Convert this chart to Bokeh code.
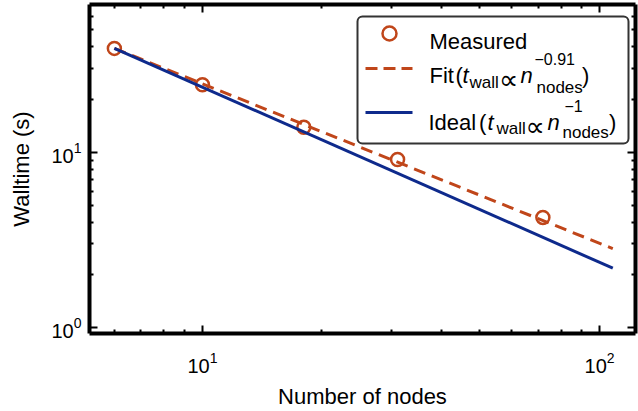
from bokeh.plotting import figure
from bokeh.models import (LogAxis, FixedTicker, LogTickFormatter, CustomJSTickFormatter,
                          Label, BoxAnnotation, Arrow, Range1d)
from bokeh.embed import file_html
from bokeh.resources import INLINE

# ---- data ----
nodes = [6, 10, 18, 31, 72]
walltime = [39.2, 24.3, 13.9, 9.1, 4.25]
fit_nodes = [6, 108]
fit_walltime = [39.2, 2.82]
ideal_nodes = [6, 108]
ideal_walltime = [39.2, 2.18]

x_major = [1, 10, 100, 1000]
y_major = [0.1, 1, 10, 100]
x_minor = [m * d for d in (1, 10, 100) for m in range(2, 10)]
y_minor = [m * d for d in (0.1, 1, 10) for m in range(2, 10)]

ORANGE = "#C0461A"
BLUE = "#0E2A8C"
FONT = "Liberation Sans"

p = figure(width=638, height=411, x_axis_type="log", y_axis_type="log",
           x_range=Range1d(5.194, 123.2), y_range=Range1d(0.924, 69.8),
           output_backend="svg", toolbar_location=None,
           min_border_left=89, min_border_right=3, min_border_top=4, min_border_bottom=78)
p.background_fill_color = "white"
p.border_fill_color = "white"
p.grid.visible = False
p.outline_line_color = None

xt = FixedTicker(ticks=x_major, minor_ticks=x_minor)
yt = FixedTicker(ticks=y_major, minor_ticks=y_minor)


def style_axis(ax):
    ax.axis_line_color = "black"
    ax.axis_line_width = 4
    ax.major_tick_in = 8
    ax.major_tick_out = 0
    ax.minor_tick_in = 4
    ax.minor_tick_out = 0
    ax.major_tick_line_width = 2
    ax.minor_tick_line_width = 2
    ax.major_tick_line_color = "black"
    ax.minor_tick_line_color = "black"
    ax.major_label_text_font = FONT
    ax.major_label_text_font_size = "20px"
    ax.major_label_text_color = "black"
    ax.axis_label_text_font = FONT
    ax.axis_label_text_font_size = "22px"
    ax.axis_label_text_font_style = "normal"
    ax.axis_label_text_color = "black"


xa = p.xaxis[0]
ya = p.yaxis[0]
xa.ticker = xt
ya.ticker = yt
xa.formatter = LogTickFormatter()
ya.formatter = LogTickFormatter()
style_axis(xa)
style_axis(ya)
xa.axis_label = "Number of nodes"
ya.axis_label = "Walltime (s)"
xa.major_label_standoff = 18
xa.axis_label_standoff = 8
ya.major_label_standoff = 8
ya.axis_label_standoff = 14

top = LogAxis(ticker=xt, formatter=CustomJSTickFormatter(code="return ''"))
right = LogAxis(ticker=yt, formatter=CustomJSTickFormatter(code="return ''"))
for ax in (top, right):
    style_axis(ax)
    ax.major_label_text_font_size = "0px"
    ax.major_label_standoff = 0
p.add_layout(top, "above")
p.add_layout(right, "right")

# ---- data marks ----
p.scatter(nodes, walltime, marker="circle", size=13, fill_color=None,
          line_color=ORANGE, line_width=2.5)
p.line(fit_nodes, fit_walltime, line_color=ORANGE, line_width=3, line_dash="12 7")
p.line(ideal_nodes, ideal_walltime, line_color=BLUE, line_width=3)

# ---- legend (screen units relative to the plot frame, y measured upward) ----
p.add_layout(BoxAnnotation(left=268, right=539, top=317, bottom=190,
                           left_units="screen", right_units="screen",
                           top_units="screen", bottom_units="screen",
                           fill_color="white", fill_alpha=1.0,
                           line_color="#333333", line_alpha=1.0, line_width=2,
                           border_radius=5))
p.add_layout(BoxAnnotation(left=293, right=307, top=307, bottom=293,
                           left_units="screen", right_units="screen",
                           top_units="screen", bottom_units="screen",
                           fill_color=None, fill_alpha=0,
                           line_color=ORANGE, line_alpha=1.0, line_width=2.5,
                           border_radius=7))
p.add_layout(Arrow(x_start=276, y_start=265, x_end=323, y_end=265,
                   start_units="screen", end_units="screen", start=None, end=None,
                   line_color=ORANGE, line_width=3, line_dash="12 6"))
p.add_layout(Arrow(x_start=276, y_start=221, x_end=323, y_end=221,
                   start_units="screen", end_units="screen", start=None, end=None,
                   line_color=BLUE, line_width=3))

tokens = [
    ("Measured", 340, 292, 22, "normal", FONT),
    ("Fit", 340, 258, 22, "normal", FONT),
    ("(", 366, 258, 22, "normal", FONT),
    ("t", 373, 258, 22, "italic", FONT),
    ("wall", 380, 251, 17, "normal", FONT),
    ("\u221d", 409.5, 254, 27, "normal", "DejaVu Sans"),
    ("n", 431, 258, 22, "italic", FONT),
    ("\u22120.91", 445, 275, 16, "normal", FONT),
    ("nodes", 447, 246, 17, "normal", FONT),
    (")", 492.5, 258, 22, "normal", FONT),
    ("Ideal", 339, 211, 22, "normal", FONT),
    ("(", 389.5, 211, 22, "normal", FONT),
    ("t", 398, 211, 22, "italic", FONT),
    ("wall", 407, 205, 17, "normal", FONT),
    ("\u221d", 436, 207, 27, "normal", "DejaVu Sans"),
    ("n", 458, 211, 22, "italic", FONT),
    ("\u22121", 475, 228, 16, "normal", FONT),
    ("nodes", 473, 201, 17, "normal", FONT),
    (")", 519.5, 211, 22, "normal", FONT),
]
for text, x, y, size, style, font in tokens:
    p.add_layout(Label(x=x, y=y, x_units="screen", y_units="screen", text=text,
                       text_font=font, text_font_size=f"{size}px", text_font_style=style,
                       text_color="black", text_align="left", text_baseline="alphabetic"))

open("out.html", "w").write(file_html(p, INLINE))
